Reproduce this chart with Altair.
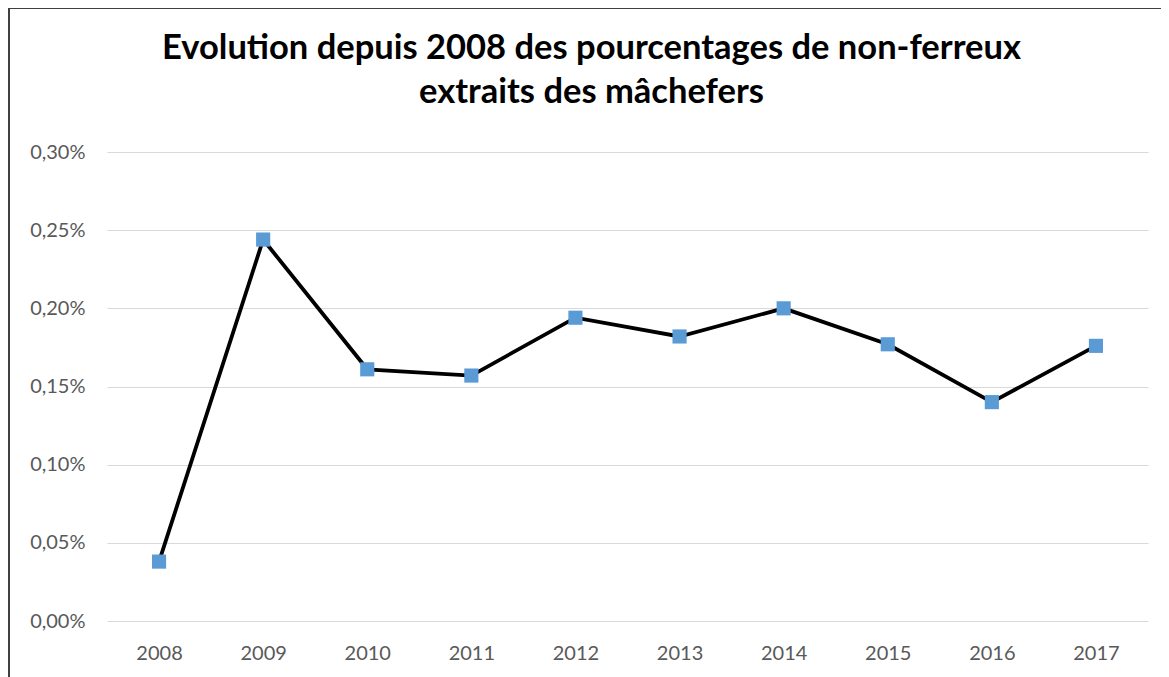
import altair as alt
import pandas as pd

years = ["2008", "2009", "2010", "2011", "2012", "2013", "2014", "2015", "2016", "2017"]
values = [0.00038, 0.00244, 0.00161, 0.00157, 0.00194, 0.00182, 0.00200, 0.00177, 0.00140, 0.00176]
y_ticks = [0.0, 0.0005, 0.001, 0.0015, 0.002, 0.0025, 0.003]

df = pd.DataFrame({"annee": years, "valeur": values})

FONT = "Lato"
W, H = 1041, 469

x_enc = alt.X("annee:N", sort=years, title=None,
              scale=alt.Scale(paddingInner=0, paddingOuter=0),
              axis=alt.Axis(labelAngle=0, ticks=False, domain=False, grid=False,
                            labelPadding=22, labelFontSize=20, labelColor="#595959",
                            labelFont=FONT))
y_enc = alt.Y("valeur:Q", title=None,
              scale=alt.Scale(domain=[0, 0.003], nice=False),
              axis=alt.Axis(values=y_ticks, format=".2%", ticks=False, domain=False,
                            gridColor="#D9D9D9", gridWidth=1.2, labelPadding=22,
                            labelFontSize=20, labelColor="#595959", labelFont=FONT,
                            labelExpr="replace(datum.label, '.', ',')"))

base = alt.Chart(df).encode(x=x_enc, y=y_enc)
line = base.mark_line(color="black", strokeWidth=3.8)
pts = base.mark_square(size=200, color="#5B9BD5", opacity=1, filled=True)

frame_left = alt.Chart(df).mark_rule(color="#404040", strokeWidth=2, clip=False).encode(
    x=alt.value(-98), y=alt.value(-144), y2=alt.value(H + 60))
frame_top = alt.Chart(df).mark_rule(color="#404040", strokeWidth=2, clip=False).encode(
    x=alt.value(-98), x2=alt.value(W + 30), y=alt.value(-144))

chart = alt.layer(line, pts, frame_left, frame_top).properties(
    width=W, height=H,
    title=alt.TitleParams(
        ["Evolution depuis 2008 des pourcentages de non-ferreux", "extraits des mâchefers"],
        anchor="middle", frame="group", dx=-36, offset=-103, fontSize=34.5, font=FONT,
        fontWeight="bold", color="black", lineHeight=44),
    autosize=alt.AutoSizeParams(type="none"),
    padding={"left": 99, "top": 144, "right": 13, "bottom": 56},
).configure(background="white").configure_view(stroke=None)

chart.save("out.html", embed_options={"renderer": "svg", "actions": False})
